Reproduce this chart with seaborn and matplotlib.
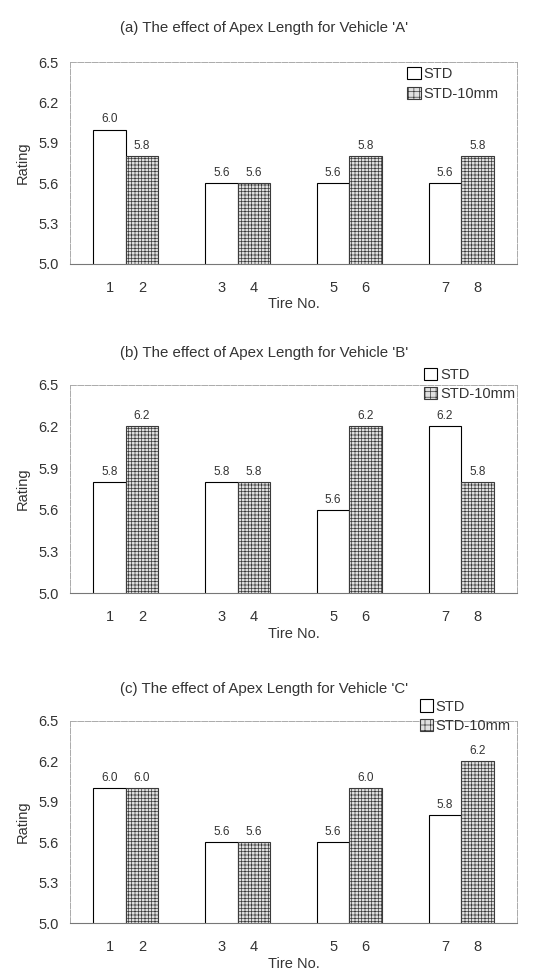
import pandas as pd
import numpy as np
import matplotlib.pyplot as plt
import seaborn as sns

sns.set_style('white')
plt.rcParams['font.family'] = ['Liberation Sans', 'DejaVu Sans']
plt.rcParams['hatch.linewidth'] = 0.5

# data
pairs = ['1-2', '3-4', '5-6', '7-8']
tire_labels = ['1', '2', '3', '4', '5', '6', '7', '8']
series = ['STD', 'STD-10mm']
vehicles = ['A', 'B', 'C']
std_a = [6.0, 5.6, 5.6, 5.6]
mm10_a = [5.8, 5.6, 5.8, 5.8]
std_b = [5.8, 5.8, 5.6, 6.2]
mm10_b = [6.2, 5.8, 6.2, 5.8]
std_c = [6.0, 5.6, 5.6, 5.8]
mm10_c = [6.0, 5.6, 6.0, 6.2]
y_ticks = [5.0, 5.3, 5.6, 5.9, 6.2, 6.5]

panel_data = [(std_a, mm10_a), (std_b, mm10_b), (std_c, mm10_c)]

# axes boxes in figure fraction: left, bottom, width, height
boxes = [[0.131, 0.729, 0.839, 0.207],
         [0.131, 0.391, 0.839, 0.214],
         [0.131, 0.052, 0.839, 0.208]]
# legend anchors (axes fraction)
leg_pos = [(0.755, 0.975), (0.792, 1.08), (0.782, 1.105)]

bar_w = 0.58

fig = plt.figure(figsize=(5.33, 9.74), dpi=100)

for i, (std, mm10) in enumerate(panel_data):
    ax = fig.add_axes(boxes[i])
    df = pd.DataFrame({'pair': pairs * 2,
                       'rating': std + mm10,
                       'type': [series[0]] * 4 + [series[1]] * 4})
    sns.barplot(data=df, x='pair', y='rating', hue='type',
                palette=['white', '#e0e0e0'], edgecolor='black',
                linewidth=0.8, width=bar_w, ax=ax, legend=True)

    for p in ax.containers[1]:
        p.set_hatch('+++++')
        p.set_edgecolor('#3a3a3a')

    for c in ax.containers:
        ax.bar_label(c, fmt='%.1f', padding=3, fontsize=8.5, color='#333333')

    ax.set_ylim(5.0, 6.5)
    ax.set_xlim(-0.5, 3.5)
    ax.set_yticks(y_ticks)
    ax.set_yticklabels([f'{t:.1f}' for t in y_ticks], fontsize=10.5, color='#333333')

    g = np.arange(len(pairs))
    xt = np.sort(np.concatenate([g - bar_w / 4, g + bar_w / 4]))
    ax.set_xticks(xt)
    ax.set_xticklabels(tire_labels, fontsize=10.5, color='#333333')
    ax.tick_params(axis='y', length=0, pad=8)
    ax.tick_params(axis='x', length=0, pad=12)

    ax.set_ylabel('Rating', fontsize=10.5, color='#333333', labelpad=6)
    ax.set_xlabel('Tire No.', fontsize=10.5, color='#333333', labelpad=2)
    ax.set_title(f"({'abc'[i]}) The effect of Apex Length for Vehicle '{vehicles[i]}'",
                 fontsize=10.8, color='#333333', x=0.434,
                 pad=22 if i == 0 else 20)

    for s in ['top', 'right', 'left']:
        ax.spines[s].set_color('#aaaaaa')
        ax.spines[s].set_linewidth(0.7)
        ax.spines[s].set_linestyle((0, (6, 1.5)))
    ax.spines['bottom'].set_color('#777777')
    ax.spines['bottom'].set_linewidth(0.8)

    leg = ax.legend(loc='upper left', bbox_to_anchor=leg_pos[i], frameon=False,
                    fontsize=10.5, handlelength=0.9, handleheight=0.9,
                    handletextpad=0.2, borderpad=0, borderaxespad=0,
                    labelspacing=0.35)
    hd = leg.legend_handles
    hd[1].set_hatch('+++')
    hd[1].set_edgecolor('#3a3a3a')
    for t in leg.get_texts():
        t.set_color('#333333')

fig.savefig('out.png', dpi=100)
